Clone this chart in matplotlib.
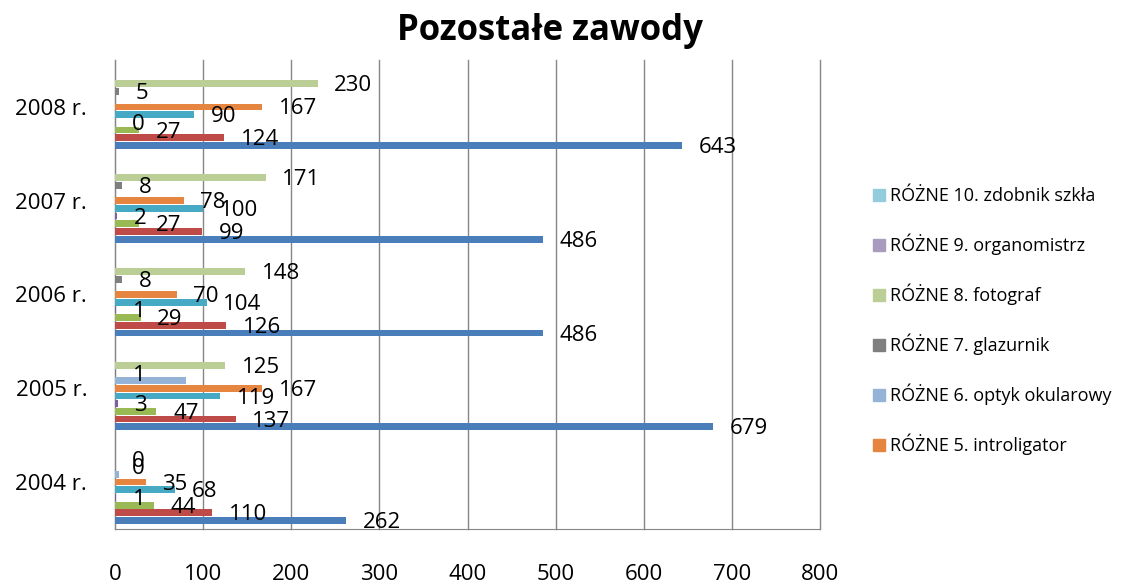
import numpy as np
import matplotlib
matplotlib.use("Agg")
from matplotlib import pyplot as plt
from matplotlib.patches import Patch

plt.rcParams['font.family'] = ['Open Sans', 'DejaVu Sans']

years = ['2004 r.', '2005 r.', '2006 r.', '2007 r.', '2008 r.']

# serie od dołu grupy do góry (1-5 nie widać w ucietej legendzie)
series_names = ['RAZEM', 'RÓŻNE 1.', 'RÓŻNE 2.', 'RÓŻNE 3.', 'RÓŻNE 4.',
                'RÓŻNE 5. introligator', 'RÓŻNE 6. optyk okularowy',
                'RÓŻNE 7. glazurnik', 'RÓŻNE 8. fotograf',
                'RÓŻNE 9. organomistrz', 'RÓŻNE 10. zdobnik szkła']

razem = [262, 679, 486, 486, 643]
s1 = [110, 137, 126, 99, 124]
s2 = [44, 47, 29, 27, 27]
s3 = [1, 3, 1, 2, 0]
s4 = [68, 119, 104, 100, 90]
introligator = [35, 167, 70, 78, 167]
optyk = [4, 80, 0, 0, 0]
glazurnik = [0, 1, 8, 8, 5]
fotograf = [0, 125, 148, 171, 230]
organomistrz = [0, 0, 0, 0, 0]
zdobnik = [0, 0, 0, 0, 0]

values = [razem, s1, s2, s3, s4, introligator, optyk, glazurnik,
          fotograf, organomistrz, zdobnik]
# ktore serie maja etykiety danych
has_labels = [True, True, True, True, True, True, False, True, True, False, False]

colors = ['#4A7EBB', '#BE4B48', '#98B954', '#7D60A0', '#46AAC5', '#E5853F',
          '#95B3D7', '#7F7F7F', '#BACE95', '#A99BBD', '#93CDDD']

fig = plt.figure(figsize=(11.25, 5.83), dpi=100)
ax = fig.add_axes([115 / 1125, 1 - 529 / 583, 705 / 1125, 469 / 583])

y = np.arange(len(years))
step = 0.082
n = len(values)
for i in range(n):
    pos = y + (i - (n - 1) / 2) * step
    ax.barh(pos, values[i], height=step * 0.88, color=colors[i], zorder=3)
    if has_labels[i]:
        for yy, v in zip(pos, values[i]):
            ax.annotate(str(v), (v, yy), xytext=(12, -1.5), textcoords='offset points',
                        ha='left', va='center', fontsize=16, zorder=4)

ax.set_xlim(0, 800)
ax.set_ylim(-0.5, 4.5)
ax.set_xticks(range(0, 801, 100))
ax.set_yticks(y)
ax.set_yticklabels(years)
ax.tick_params(axis='x', length=0, pad=25, labelsize=16)
ax.tick_params(axis='y', length=0, pad=20, labelsize=16)
ax.grid(axis='x', color='#868686', lw=1, zorder=0, clip_on=False)
for s in ['top', 'right']:
    ax.spines[s].set_visible(False)
for s in ['left', 'bottom']:
    ax.spines[s].set_color('#868686')

fig.text(550 / 1125, 1 - 31 / 583, 'Pozostałe zawody', ha='center', va='center',
         fontsize=25, fontweight='bold')

# legenda (ucieta w oryginale - tylko 6 pozycji)
handles = [Patch(color=colors[i], label=series_names[i]) for i in range(10, 4, -1)]
fig.legend(handles=handles, loc='upper left', bbox_to_anchor=(857 / 1125, 1 - 171 / 583),
           frameon=False, fontsize=13, labelspacing=1.58, handlelength=0.65,
           handleheight=0.65, handletextpad=0.3)

fig.savefig('out.png', dpi=100)
